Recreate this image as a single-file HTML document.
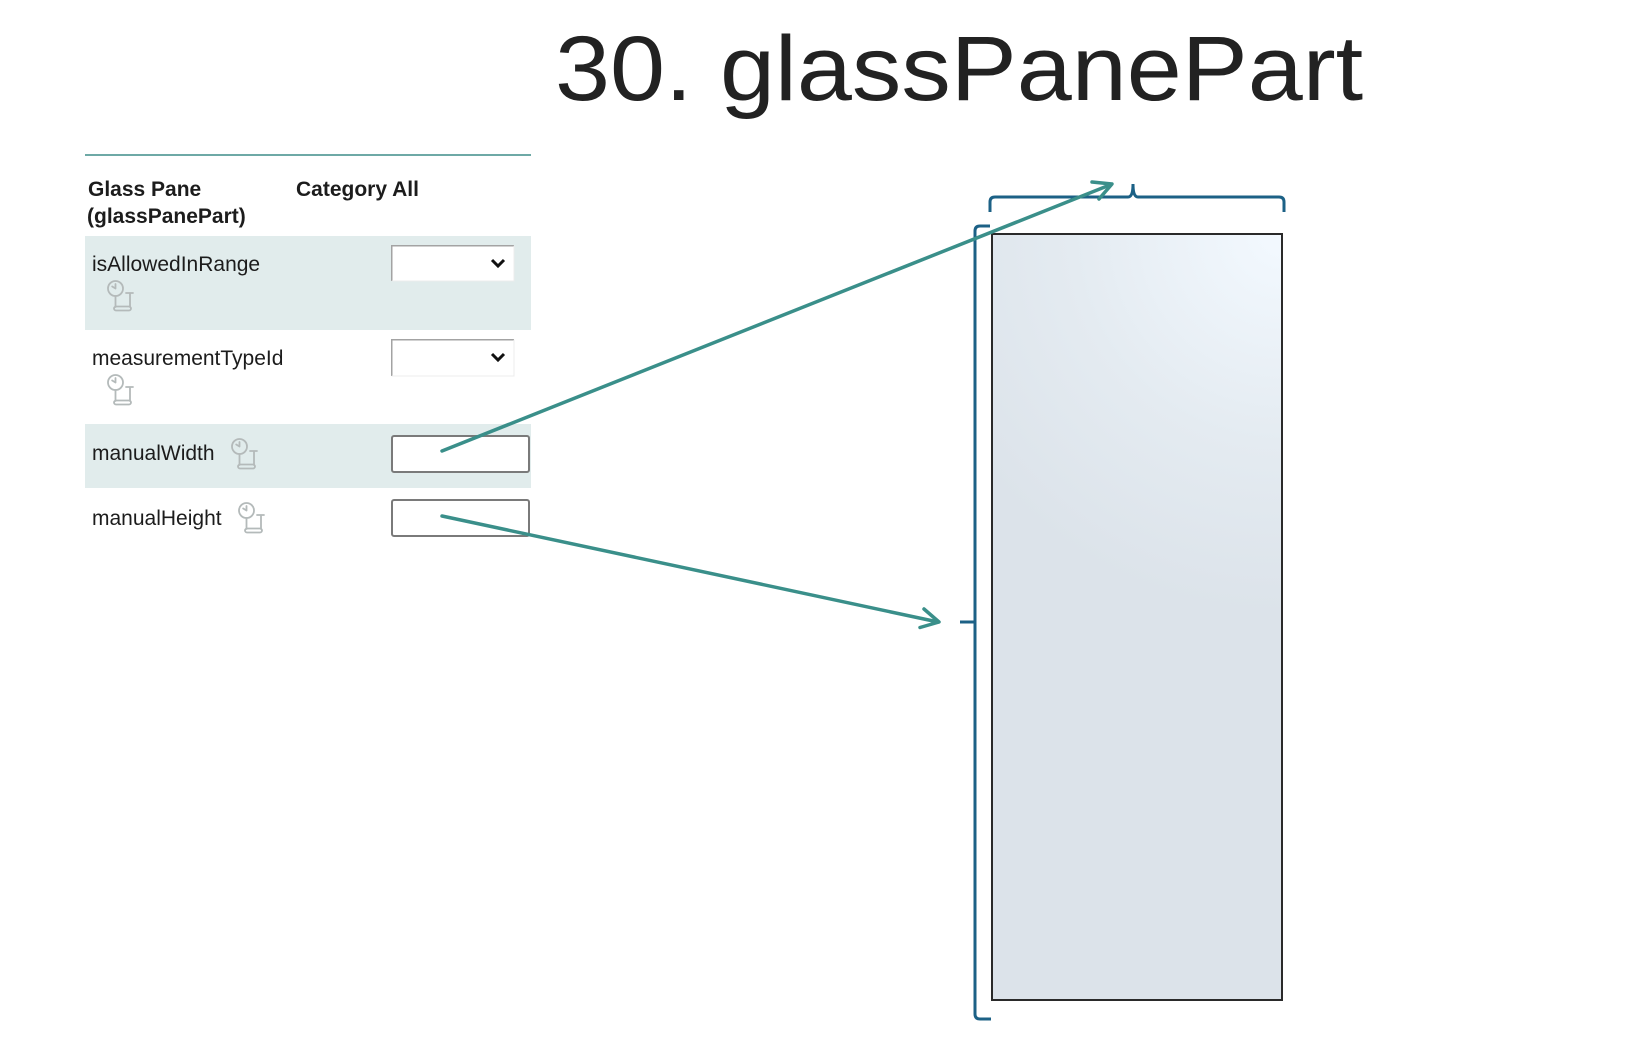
<!DOCTYPE html>
<html>
<head>
<meta charset="utf-8">
<style>
  html, body { margin: 0; padding: 0; background: #ffffff; }
  body { width: 1645px; height: 1040px; overflow: hidden; position: relative; }
  svg { position: absolute; left: 0; top: 0; display: block; }
  text { font-family: "Liberation Sans", Arial, sans-serif; }
</style>
</head>
<body>
<svg width="1645" height="1040" viewBox="0 0 1645 1040" xmlns="http://www.w3.org/2000/svg">
  <defs>
    <radialGradient id="glass" gradientUnits="userSpaceOnUse" cx="1282" cy="234" r="380">
      <stop offset="0" stop-color="#f3f9ff"/>
      <stop offset="0.55" stop-color="#e4ebf1"/>
      <stop offset="1" stop-color="#dce3ea"/>
    </radialGradient>
    <g id="icon" fill="none" stroke="#b4baba" stroke-width="1.8" stroke-linecap="round">
      <circle cx="7.5" cy="8.5" r="7.5"/>
      <path d="M7.5 8.5 L7.5 4 M7.5 8.5 L4.2 6.5"/>
      <path d="M7.5 16 L7.5 27"/>
      <rect x="6" y="26.5" width="17" height="4" rx="2"/>
      <path d="M22 13.5 L22 27 M18 13 L25 13"/>
    </g>
  </defs>

  <!-- Title -->
  <text transform="translate(555,100) scale(1.075,1)" x="0" y="0" font-size="92" fill="#222222">30. glassPanePart</text>

  <!-- Panel -->
  <line x1="85" y1="155" x2="531" y2="155" stroke="#6ea9a6" stroke-width="2"/>
  <text x="88" y="196" font-size="21" font-weight="bold" fill="#1c1c1c">Glass Pane</text>
  <text x="87" y="223" font-size="21" font-weight="bold" fill="#1c1c1c">(glassPanePart)</text>
  <text x="296" y="196" font-size="21" font-weight="bold" fill="#1c1c1c">Category All</text>

  <!-- Row 1 -->
  <rect x="85" y="236" width="446" height="94" fill="#e1ecec"/>
  <text x="92" y="271" font-size="21" fill="#1c1c1c">isAllowedInRange</text>
  <rect x="391" y="245" width="123" height="36" fill="#ffffff"/>
  <path d="M391.75 281 V245.75 H514" fill="none" stroke="#a3a3a3" stroke-width="1.5"/>
  <path d="M514 245.75 V281 H391.75" fill="none" stroke="#ececec" stroke-width="1"/>
  <polyline points="492,260 498,266 504,260" fill="none" stroke="#111" stroke-width="3"/>
  <use href="#icon" x="108" y="280"/>

  <!-- Row 2 -->
  <text x="92" y="365" font-size="21" fill="#1c1c1c">measurementTypeId</text>
  <rect x="391" y="339" width="123" height="37" fill="#ffffff"/>
  <path d="M391.75 376 V339.75 H514" fill="none" stroke="#a3a3a3" stroke-width="1.5"/>
  <path d="M514 339.75 V376 H391.75" fill="none" stroke="#ececec" stroke-width="1"/>
  <polyline points="492,354 498,360 504,354" fill="none" stroke="#111" stroke-width="3"/>
  <use href="#icon" x="108" y="374"/>

  <!-- Row 3 -->
  <rect x="85" y="424" width="446" height="64" fill="#e1ecec"/>
  <text x="92" y="460" font-size="21" fill="#1c1c1c">manualWidth</text>
  <use href="#icon" x="232" y="438"/>
  <rect x="392" y="436" width="137" height="36" rx="2" fill="#ffffff" stroke="#7a7a7a" stroke-width="2"/>

  <!-- Row 4 -->
  <text x="92" y="525" font-size="21" fill="#1c1c1c">manualHeight</text>
  <use href="#icon" x="239" y="502"/>
  <rect x="392" y="500" width="137" height="36" rx="2" fill="#ffffff" stroke="#7a7a7a" stroke-width="2"/>

  <!-- Glass pane rectangle -->
  <rect x="992" y="234" width="290" height="766" fill="url(#glass)" stroke="#2a2a2a" stroke-width="2"/>

  <!-- Left bracket -->
  <path d="M990 226 H980 Q975 226 975 231 V1014 Q975 1019 980 1019 H991" fill="none" stroke="#1c6186" stroke-width="3"/>
  <path d="M960 622 H975" fill="none" stroke="#1c6186" stroke-width="3"/>

  <!-- Top brace -->
  <path d="M990 212 V202 Q990 197 995 197 H1128 Q1133 197 1133 184 Q1133 197 1138 197 H1279 Q1284 197 1284 202 V212" fill="none" stroke="#1c6186" stroke-width="3"/>

  <!-- Arrows -->
  <g fill="none" stroke="#3a8f8a" stroke-width="3.5" stroke-linecap="round" stroke-linejoin="round">
    <line x1="442" y1="451" x2="1111" y2="184.5"/>
    <polyline points="1092,182 1112,184 1099,199"/>
    <line x1="442" y1="516" x2="938" y2="622"/>
    <polyline points="924,609 939,622 920,627.5"/>
  </g>
</svg>
</body>
</html>
